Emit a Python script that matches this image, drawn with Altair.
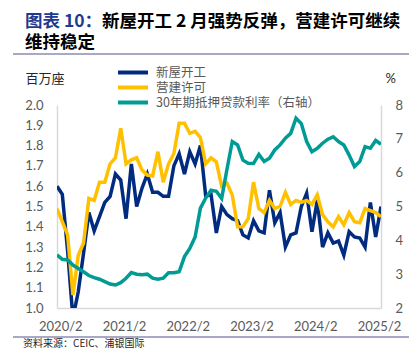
import altair as alt
import pandas as pd

# ---- data (monthly, 2020/1 .. 2025/2) ----
starts = [1.60, 1.56, 1.28, 0.95, 1.08, 1.27, 1.47, 1.38, 1.45, 1.52, 1.55, 1.66,
          1.63, 1.44, 1.71, 1.50, 1.59, 1.66, 1.57, 1.57, 1.55, 1.55, 1.70, 1.76,
          1.66, 1.77, 1.71, 1.80, 1.55, 1.56, 1.37, 1.50, 1.46, 1.44, 1.43, 1.36,
          1.345, 1.43, 1.38, 1.37, 1.58, 1.42, 1.47, 1.30, 1.36, 1.37, 1.50, 1.565,
          1.376, 1.53, 1.30, 1.37, 1.32, 1.33, 1.26, 1.376, 1.35, 1.345, 1.30, 1.52,
          1.35, 1.50]
permits = [1.49, 1.425, 1.36, 1.064, 1.26, 1.32, 1.54, 1.53, 1.62, 1.62, 1.71, 1.74,
           1.885, 1.71, 1.73, 1.74, 1.68, 1.655, 1.65, 1.77, 1.62, 1.71, 1.76, 1.91,
           1.91, 1.86, 1.87, 1.84, 1.71, 1.74, 1.72, 1.60, 1.615, 1.557, 1.40, 1.40,
           1.44, 1.62, 1.49, 1.47, 1.53, 1.49, 1.50, 1.57, 1.51, 1.53, 1.52, 1.53,
           1.51, 1.557, 1.46, 1.425, 1.40, 1.45, 1.41, 1.47, 1.425, 1.42, 1.49, 1.48,
           1.47, 1.45]
mortgage = [3.57, 3.44, 3.42, 3.27, 3.17, 3.07, 2.96, 2.90, 2.85, 2.78, 2.71, 2.68,
            2.75, 2.88, 3.05, 3.00, 2.98, 3.00, 2.88, 2.85, 2.88, 3.04, 3.04, 3.07,
            3.52, 3.76, 4.10, 4.95, 5.25, 5.48, 5.45, 5.24, 6.10, 6.92, 6.82, 6.37,
            6.28, 6.27, 6.54, 6.33, 6.43, 6.67, 6.82, 7.02, 7.16, 7.61, 7.45, 6.92,
            6.62, 6.72, 6.87, 6.99, 7.06, 6.92, 6.82, 6.52, 6.18, 6.33, 6.77, 6.72,
            6.95, 6.84]
series_names = ["新屋开工", "营建许可", "30年期抵押贷款利率（右轴）"]
series_colors = ["#002B7F", "#FFC000", "#009B94"]
tick_index = [1, 13, 25, 37, 49, 61]
tick_labels = ["2020/2", "2021/2", "2022/2", "2023/2", "2024/2", "2025/2"]
left_ticks = [1.0, 1.1, 1.2, 1.3, 1.4, 1.5, 1.6, 1.7, 1.8, 1.9, 2.0]
right_ticks = [2, 3, 4, 5, 6, 7, 8]

title_blue = "图表 10："
title_rest = "新屋开工 2 月强势反弹，营建许可继续"
title_line2 = "维持稳定"
source_text = "资料来源：CEIC、浦银国际"

n = len(starts)
left_df = pd.DataFrame({
    "i": list(range(n)) * 2,
    "v": starts + permits,
    "s": [series_names[0]] * n + [series_names[1]] * n,
})
right_df = pd.DataFrame({"i": list(range(n)), "v": mortgage, "s": [series_names[2]] * n})

GRAY = "#595959"
AXC = "#D9D9D9"
NUMF = "Lato"
CJK = "Noto Sans CJK SC"
label_expr = "[" + ",".join("'%s'" % t for t in tick_labels) + "][round((datum.value-1)/12)]"

xenc = alt.X("i:Q", scale=alt.Scale(domain=[0, n - 1], nice=False, zero=False),
             axis=alt.Axis(values=tick_index, labelExpr=label_expr, ticks=False, grid=False,
                           labelOverlap=False, labelBound=False, labelFlush=False, labelOffset=-2,
                           domainColor=AXC, domainWidth=1.5, labelColor=GRAY, labelFont=NUMF,
                           labelFontSize=13, labelPadding=12, title=None))

color = alt.Color("s:N", scale=alt.Scale(domain=series_names, range=series_colors),
                  legend=alt.Legend(title=None, orient="none", legendX=59, legendY=-40,
                                    symbolType="stroke", symbolSize=900, symbolStrokeWidth=4,
                                    clipHeight=15, rowPadding=0, padding=0,
                                    labelFont=CJK, labelFontSize=12.5, labelColor=GRAY,
                                    labelOffset=6, labelLimit=400))

left = alt.Chart(left_df).mark_line(strokeWidth=3.5, clip=True).encode(
    x=xenc,
    y=alt.Y("v:Q", scale=alt.Scale(domain=[1.0, 2.0], nice=False, zero=False),
            axis=alt.Axis(orient="left", values=left_ticks, format=".1f", ticks=False, grid=False,
                          domainColor=AXC, domainWidth=1.5, labelColor=GRAY, labelFont=NUMF,
                          labelFontSize=13, labelPadding=14,
                          title="百万座", titleAngle=0, titleAlign="left", titleBaseline="alphabetic",
                          titleX=-32, titleY=-23, titleFont=CJK, titleFontSize=13,
                          titleFontWeight="normal", titleColor="#262626")),
    color=color,
)

right = alt.Chart(right_df).mark_line(strokeWidth=3.5, clip=True).encode(
    x=xenc,
    y=alt.Y("v:Q", scale=alt.Scale(domain=[2, 8], nice=False, zero=False),
            axis=alt.Axis(orient="right", values=right_ticks, format="d", ticks=False, grid=False,
                          domainColor=AXC, domainWidth=1.5, labelColor=GRAY, labelFont=NUMF,
                          labelFontSize=13, labelPadding=14,
                          title="%", titleAngle=0, titleAlign="left", titleBaseline="alphabetic",
                          titleX=4, titleY=-23, titleFont=NUMF, titleFontSize=13,
                          titleFontWeight="normal", titleColor="#262626")),
    color=color,
)


def txt(t, x, y, size, color, weight="normal", font=CJK):
    return alt.Chart(pd.DataFrame({"t": [t]})).mark_text(
        align="left", baseline="alphabetic", fontSize=size, fontWeight=weight, font=font,
        color=color, clip=False
    ).encode(x=alt.value(x), y=alt.value(y), text="t:N")


t1 = txt(title_blue, -32, -78, 17.5, "#1F3A8F", "bold")
t2 = txt(title_rest, 45, -78, 17.5, "#000000", "bold")
t3 = txt(title_line2, -32, -57, 17.5, "#000000", "bold")
src = txt(source_text, -34, 242, 10, "#262626")

rule_df = pd.DataFrame({"k": [0]})
top_rule = alt.Chart(rule_df).mark_rule(color="#8C8CB4", strokeWidth=1.5).encode(
    x=alt.value(-44), x2=alt.value(352), y=alt.value(-51))
bot_rule = alt.Chart(rule_df).mark_rule(color="#8C8CB4", strokeWidth=1.5).encode(
    x=alt.value(-44), x2=alt.value(352), y=alt.value(232))

lines = alt.layer(left, right).resolve_scale(y="independent")
chart = alt.layer(lines, t1, t2, t3, src, top_rule, bot_rule).properties(
    width=324, height=203,
    autosize=alt.AutoSizeParams(type="none"),
    padding={"left": 49, "top": 97, "right": 28, "bottom": 41},
).configure_view(stroke=None)

chart.save("out.html", embed_options={"renderer": "svg", "actions": False})
